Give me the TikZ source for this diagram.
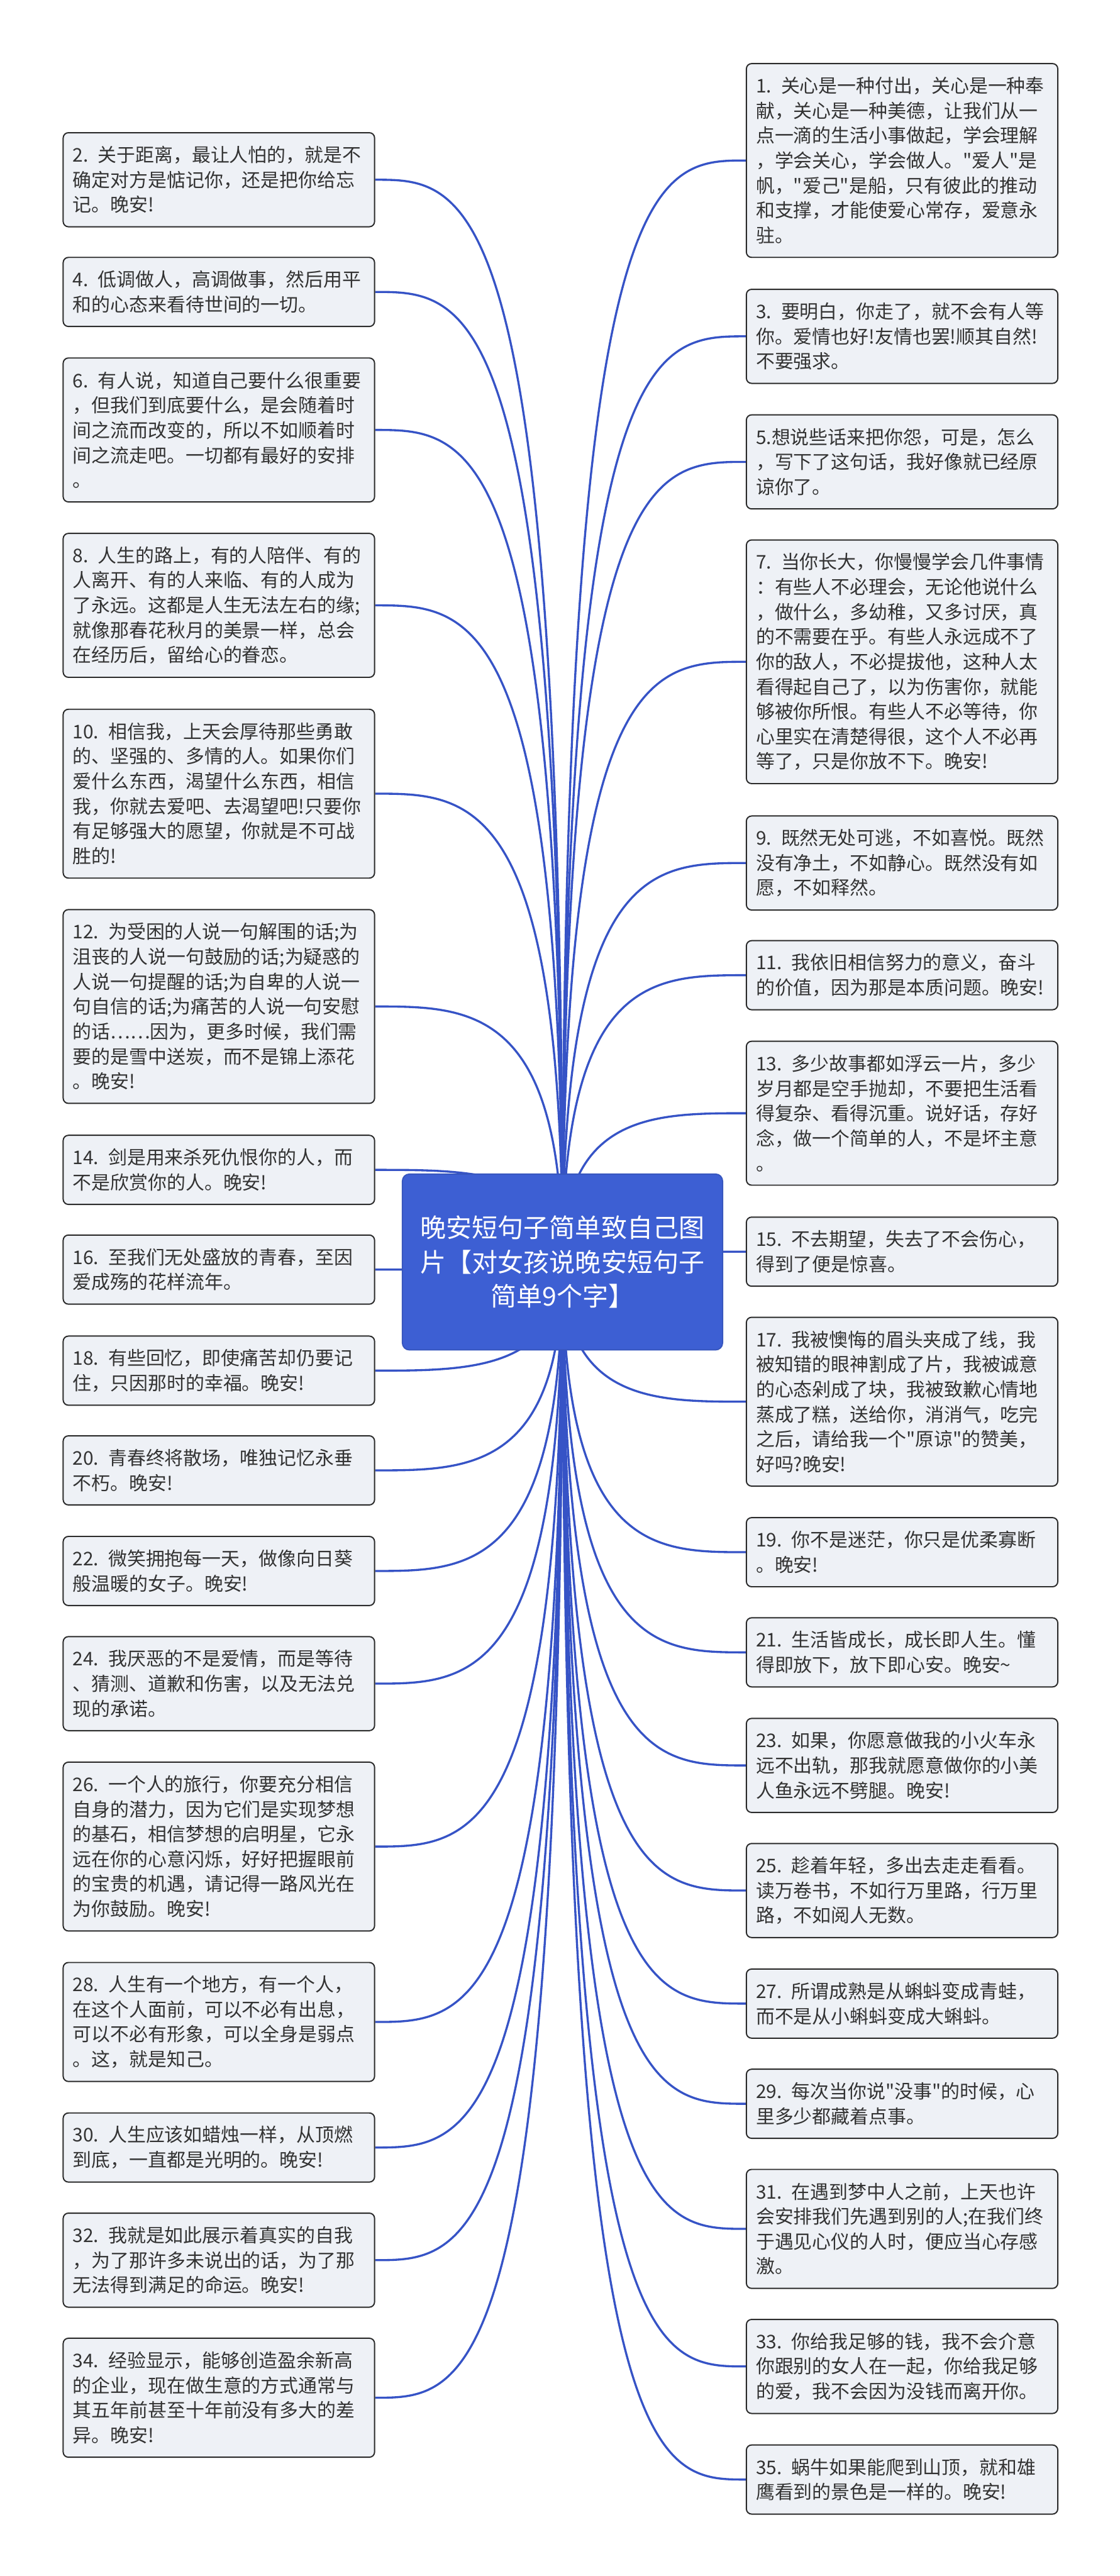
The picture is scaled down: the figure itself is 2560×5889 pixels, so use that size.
\documentclass[tikz,border=0pt]{standalone}
\usepackage{fontspec}
\setmainfont{Noto Sans CJK SC}[Ligatures=TeXOff]
\usetikzlibrary{calc}
\pgfdeclarelayer{bg}
\pgfsetlayers{bg,main}
\definecolor{boxfill}{HTML}{EEF1F6}
\definecolor{boxline}{HTML}{2B2B2B}
\definecolor{txt}{HTML}{333333}
\definecolor{rootfill}{HTML}{3D5FD3}
\definecolor{link}{HTML}{3653C6}
\begin{document}
\begin{tikzpicture}[x=0.25pt,y=-0.25pt,
  leaf/.style={rectangle, rounded corners=3pt, draw=boxline, line width=0.7pt, fill=boxfill,
    text=txt, font=\fontsize{10.75pt}{14.25pt}\selectfont, align=left, text width=167pt,
    inner xsep=5.5pt, inner ysep=0pt, anchor=north west, minimum height={#1*0.25pt}},
  rootbox/.style={rectangle, rounded corners=4pt, draw=rootfill!90!black, line width=0.7pt, fill=rootfill,
    text=white, font=\fontsize{14.75pt}{19.5pt}\selectfont, align=center,
    minimum width=183pt, minimum height=100.5pt, inner sep=0pt},
  conn/.style={draw=link, line width=1.2pt}]
\useasboundingbox (0,0) rectangle (2560,5889);

\node[rootbox] (root) at (1286,2885) {晚安短句子简单致自己图\\片【对女孩说晚安短句子\\简单9个字】};

% left column
\node[leaf=215] (c2) at (143,302) {2. 关于距离，最让人怕的，就是不\\确定对方是惦记你，还是把你给忘\\记。晚安!};
\node[leaf=158] (c4) at (143,587) {4. 低调做人，高调做事，然后用平\\和的心态来看待世间的一切。};
\node[leaf=329] (c6) at (143,817) {6. 有人说，知道自己要什么很重要\\，但我们到底要什么，是会随着时\\间之流而改变的，所以不如顺着时\\间之流走吧。一切都有最好的安排\\。};
\node[leaf=329] (c8) at (143,1218) {8. 人生的路上，有的人陪伴、有的\\人离开、有的人来临、有的人成为\\了永远。这都是人生无法左右的缘;\\就像那春花秋月的美景一样，总会\\在经历后，留给心的眷恋。};
\node[leaf=386] (c10) at (143,1620) {10. 相信我，上天会厚待那些勇敢\\的、坚强的、多情的人。如果你们\\爱什么东西，渴望什么东西，相信\\我，你就去爱吧、去渴望吧!只要你\\有足够强大的愿望，你就是不可战\\胜的!};
\node[leaf=443] (c12) at (143,2078) {12. 为受困的人说一句解围的话;为\\沮丧的人说一句鼓励的话;为疑惑的\\人说一句提醒的话;为自卑的人说一\\句自信的话;为痛苦的人说一句安慰\\的话……因为，更多时候，我们需\\要的是雪中送炭，而不是锦上添花\\。晚安!};
\node[leaf=158] (c14) at (143,2594) {14. 剑是用来杀死仇恨你的人，而\\不是欣赏你的人。晚安!};
\node[leaf=158] (c16) at (143,2822) {16. 至我们无处盛放的青春，至因\\爱成殇的花样流年。};
\node[leaf=158] (c18) at (143,3053) {18. 有些回忆，即使痛苦却仍要记\\住，只因那时的幸福。晚安!};
\node[leaf=158] (c20) at (143,3281) {20. 青春终将散场，唯独记忆永垂\\不朽。晚安!};
\node[leaf=158] (c22) at (143,3511) {22. 微笑拥抱每一天，做像向日葵\\般温暖的女子。晚安!};
\node[leaf=215] (c24) at (143,3740) {24. 我厌恶的不是爱情，而是等待\\、猜测、道歉和伤害，以及无法兑\\现的承诺。};
\node[leaf=386] (c26) at (143,4027) {26. 一个人的旅行，你要充分相信\\自身的潜力，因为它们是实现梦想\\的基石，相信梦想的启明星，它永\\远在你的心意闪烁，好好把握眼前\\的宝贵的机遇，请记得一路风光在\\为你鼓励。晚安!};
\node[leaf=272] (c28) at (143,4485) {28. 人生有一个地方，有一个人，\\在这个人面前，可以不必有出息，\\可以不必有形象，可以全身是弱点\\。这，就是知己。};
\node[leaf=158] (c30) at (143,4829) {30. 人生应该如蜡烛一样，从顶燃\\到底，一直都是光明的。晚安!};
\node[leaf=215] (c32) at (143,5058) {32. 我就是如此展示着真实的自我\\，为了那许多未说出的话，为了那\\无法得到满足的命运。晚安!};
\node[leaf=272] (c34) at (143,5344) {34. 经验显示，能够创造盈余新高\\的企业，现在做生意的方式通常与\\其五年前甚至十年前没有多大的差\\异。晚安!};

% right column
\node[leaf=443] (r1) at (1705,144) {1. 关心是一种付出，关心是一种奉\\献，关心是一种美德，让我们从一\\点一滴的生活小事做起，学会理解\\，学会关心，学会做人。"爱人"是\\帆，"爱己"是船，只有彼此的推动\\和支撑，才能使爱心常存，爱意永\\驻。};
\node[leaf=215] (r3) at (1705,660) {3. 要明白，你走了，就不会有人等\\你。爱情也好!友情也罢!顺其自然!\\不要强求。};
\node[leaf=215] (r5) at (1705,947) {5.想说些话来把你怨，可是，怎么\\，写下了这句话，我好像就已经原\\谅你了。};
\node[leaf=557] (r7) at (1705,1233) {7. 当你长大，你慢慢学会几件事情\\：有些人不必理会，无论他说什么\\，做什么，多幼稚，又多讨厌，真\\的不需要在乎。有些人永远成不了\\你的敌人，不必提拔他，这种人太\\看得起自己了，以为伤害你，就能\\够被你所恨。有些人不必等待，你\\心里实在清楚得很，这个人不必再\\等了，只是你放不下。晚安!};
\node[leaf=215] (r9) at (1705,1864) {9. 既然无处可逃，不如喜悦。既然\\没有净土，不如静心。既然没有如\\愿，不如释然。};
\node[leaf=158] (r11) at (1705,2149) {11. 我依旧相信努力的意义，奋斗\\的价值，因为那是本质问题。晚安!};
\node[leaf=329] (r13) at (1705,2379) {13. 多少故事都如浮云一片，多少\\岁月都是空手抛却，不要把生活看\\得复杂、看得沉重。说好话，存好\\念，做一个简单的人，不是坏主意\\。};
\node[leaf=158] (r15) at (1705,2781) {15. 不去期望，失去了不会伤心，\\得到了便是惊喜。};
\node[leaf=386] (r17) at (1705,3010) {17. 我被懊悔的眉头夹成了线，我\\被知错的眼神割成了片，我被诚意\\的心态剁成了块，我被致歉心情地\\蒸成了糕，送给你，消消气，吃完\\之后，请给我一个"原谅"的赞美，\\好吗?晚安!};
\node[leaf=158] (r19) at (1705,3468) {19. 你不是迷茫，你只是优柔寡断\\。晚安!};
\node[leaf=158] (r21) at (1705,3697) {21. 生活皆成长，成长即人生。懂\\得即放下，放下即心安。晚安\textasciitilde};
\node[leaf=215] (r23) at (1705,3927) {23. 如果，你愿意做我的小火车永\\远不出轨，那我就愿意做你的小美\\人鱼永远不劈腿。晚安!};
\node[leaf=215] (r25) at (1705,4213) {25. 趁着年轻，多出去走走看看。\\读万卷书，不如行万里路，行万里\\路，不如阅人无数。};
\node[leaf=158] (r27) at (1705,4500) {27. 所谓成熟是从蝌蚪变成青蛙，\\而不是从小蝌蚪变成大蝌蚪。};
\node[leaf=158] (r29) at (1705,4729) {29. 每次当你说"没事"的时候，心\\里多少都藏着点事。};
\node[leaf=272] (r31) at (1705,4958) {31. 在遇到梦中人之前，上天也许\\会安排我们先遇到别的人;在我们终\\于遇见心仪的人时，便应当心存感\\激。};
\node[leaf=215] (r33) at (1705,5301) {33. 你给我足够的钱，我不会介意\\你跟别的女人在一起，你给我足够\\的爱，我不会因为没钱而离开你。};
\node[leaf=158] (r35) at (1705,5588) {35. 蜗牛如果能爬到山顶，就和雄\\鹰看到的景色是一样的。晚安!};

\begin{pgfonlayer}{bg}
\fill[white] (0,0) rectangle (2560,5889);
\foreach \n in {c2,c4,c6,c8,c10,c12,c14,c16,c18,c20,c22,c24,c26,c28,c30,c32,c34}
  \draw[conn] (root.center) .. controls (root.center |- \n.east) and ($(\n.east)!0.5!(root.center |- \n.east)$) .. (\n.east);
\foreach \n in {r1,r3,r5,r7,r9,r11,r13,r15,r17,r19,r21,r23,r25,r27,r29,r31,r33,r35}
  \draw[conn] (root.center) .. controls (root.center |- \n.west) and ($(\n.west)!0.5!(root.center |- \n.west)$) .. (\n.west);
\end{pgfonlayer}
\end{tikzpicture}
\end{document}
